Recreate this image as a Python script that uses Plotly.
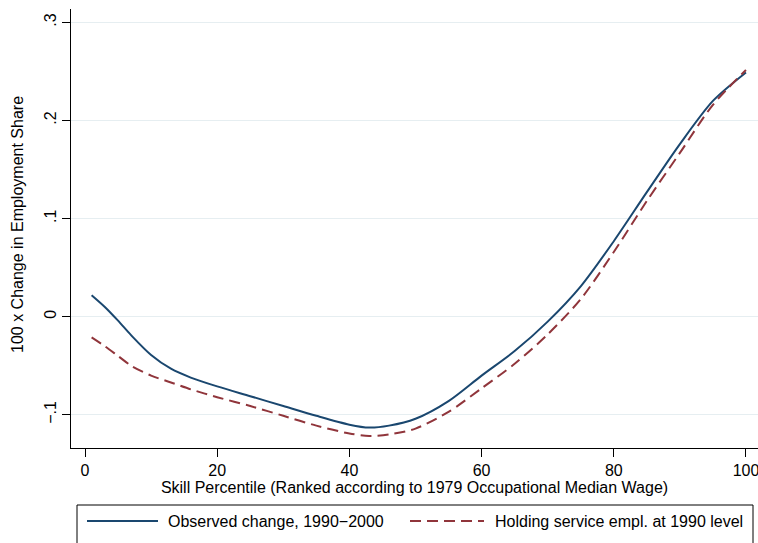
import plotly.graph_objects as go

# Skill percentile grid (occupations ranked by 1979 median wage)
percentile = [1, 3, 5, 7, 10, 13, 16, 20, 25, 30, 35, 40, 43, 46, 50,
              55, 60, 65, 70, 75, 80, 85, 90, 95, 100]

# Smoothed 100 x change in employment share, 1990-2000
observed = [0.022, 0.010, -0.004, -0.019, -0.039, -0.053, -0.062, -0.071,
            -0.081, -0.091, -0.101, -0.110, -0.113, -0.111, -0.104,
            -0.086, -0.060, -0.035, -0.005, 0.031, 0.077, 0.127, 0.176,
            0.220, 0.249]

# Counterfactual holding service employment at its 1990 level
holding_service = [-0.021, -0.030, -0.040, -0.050, -0.060, -0.067, -0.074,
                   -0.082, -0.091, -0.101, -0.111, -0.119, -0.1216, -0.120,
                   -0.114, -0.097, -0.073, -0.048, -0.018, 0.018, 0.066,
                   0.118, 0.167, 0.216, 0.2515]

x_ticks = [0, 20, 40, 60, 80, 100]
y_ticks = [-0.1, 0, 0.1, 0.2, 0.3]
y_tick_labels = ["\u2212.1", "0", ".1", ".2", ".3"]

series_names = ["Observed change, 1990\u22122000",
                "Holding service empl. at 1990 level"]

NAVY = "#1a476f"
MAROON = "#90353b"
FONT = "Liberation Sans, Arial, sans-serif"
FS = 16
DASH = "11px,6px"

fig = go.Figure()
fig.add_trace(go.Scatter(
    x=percentile, y=observed, mode="lines", name=series_names[0],
    line=dict(color=NAVY, width=2, shape="spline", smoothing=0.8),
    showlegend=False,
))
fig.add_trace(go.Scatter(
    x=percentile, y=holding_service, mode="lines", name=series_names[1],
    line=dict(color=MAROON, width=2, dash=DASH, shape="spline",
              smoothing=0.8),
    showlegend=False,
))

W, H = 758, 543
ML, MR, MT, MB = 71, 0, 9, 95
plot_w = W - ML - MR
plot_h = H - MT - MB


def px_x(p):
    return (p - ML) / plot_w


def px_y(p):
    return (H - MB - p) / plot_h


# Legend frame, line keys and labels below the x-axis title
shapes = [
    dict(type="rect", xref="paper", yref="paper",
         x0=px_x(77), x1=px_x(753), y0=px_y(560), y1=px_y(505),
         line=dict(color="black", width=1), fillcolor="white", layer="above"),
    dict(type="line", xref="paper", yref="paper",
         x0=px_x(87), x1=px_x(158), y0=px_y(521), y1=px_y(521),
         line=dict(color=NAVY, width=2)),
    dict(type="line", xref="paper", yref="paper",
         x0=px_x(410), x1=px_x(484), y0=px_y(521), y1=px_y(521),
         line=dict(color=MAROON, width=2, dash=DASH)),
]
annotations = [
    dict(text=series_names[0], xref="paper", yref="paper",
         x=px_x(166), y=px_y(521), xanchor="left", yanchor="middle",
         showarrow=False, font=dict(size=FS, color="black", family=FONT)),
    dict(text=series_names[1], xref="paper", yref="paper",
         x=px_x(493), y=px_y(521), xanchor="left", yanchor="middle",
         showarrow=False, font=dict(size=FS, color="black", family=FONT)),
    dict(text="100 x Change in Employment Share", xref="paper",
         yref="paper", x=px_x(18), y=px_y(225), xanchor="center",
         yanchor="middle", textangle=-90, showarrow=False,
         font=dict(size=FS, color="black", family=FONT)),
]

fig.update_layout(
    width=W, height=H,
    margin=dict(l=ML, r=MR, t=MT, b=MB, pad=0),
    paper_bgcolor="white", plot_bgcolor="white",
    font=dict(family=FONT, size=FS, color="black"),
    shapes=shapes, annotations=annotations,
    showlegend=False,
    xaxis=dict(
        range=[-2.12, 101.82], tickvals=x_ticks, ticks="outside",
        ticklen=8, tickwidth=1, tickcolor="black", showline=True,
        linecolor="black", linewidth=1, showgrid=False, zeroline=False,
        tickfont=dict(size=FS), ticklabeloverflow="allow",
        title=dict(text="Skill Percentile (Ranked according to 1979 "
                        "Occupational Median Wage)",
                   font=dict(size=FS), standoff=2),
    ),
    yaxis=dict(
        range=[-0.1338, 0.3137], tickvals=y_ticks, ticktext=y_tick_labels,
        tickangle=-90, ticks="outside", ticklen=8, tickwidth=1,
        tickcolor="black", showline=True, linecolor="black", linewidth=1,
        showgrid=True, gridcolor="#e6eef1", gridwidth=1, zeroline=False,
        tickfont=dict(size=FS), ticklabeloverflow="allow",
    ),
)

fig.write_html("out.html")
